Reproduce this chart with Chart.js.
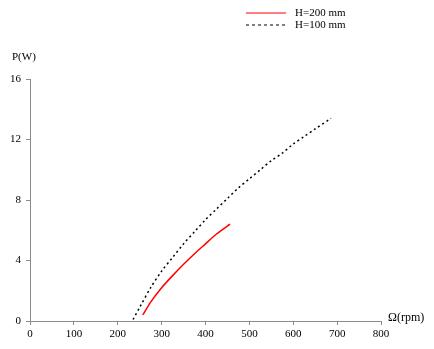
<!DOCTYPE html>
<html>
<head>
<meta charset="utf-8">
<script src="https://cdn.jsdelivr.net/npm/chart.js@4"></script>
<style>
  body { margin: 0; background: #fff; }
  #wrap { width: 434px; height: 349px; }
</style>
</head>
<body>
<div id="wrap"><canvas id="myChart"></canvas></div>
<script>
// speed values (rpm) and power (W)
var speed200 = [257, 275, 300, 325, 350, 375, 400, 425, 456];
var power200 = [0.4, 1.25, 2.2, 3.0, 3.75, 4.45, 5.1, 5.75, 6.4];

var speed100 = [235, 250, 275, 300, 325, 350, 375, 400, 425, 450, 475, 500, 525, 550, 575, 600, 625, 650, 686];
var power100 = [0.1, 0.9, 2.2, 3.3, 4.2, 5.1, 5.9, 6.7, 7.4, 8.1, 8.8, 9.4, 10.0, 10.6, 11.1, 11.7, 12.2, 12.7, 13.4];

var seriesNames = ['H=200 mm', 'H=100 mm'];
var xTicks = [0, 100, 200, 300, 400, 500, 600, 700, 800];
var yTicks = [0, 4, 8, 12, 16];

function toPoints(xs, ys) {
  return xs.map(function (x, i) { return { x: x, y: ys[i] }; });
}

var serif = '"Liberation Serif", "Times New Roman", serif';
var axisGray = '#8c8c8c';

//draws axis titles and the small legend in the top right
var extras = {
  id: 'extras',
  afterDraw: function (chart) {
    var c = chart.ctx;
    var area = chart.chartArea;
    c.save();
    c.fillStyle = '#000';
    c.textBaseline = 'middle';
    c.textAlign = 'left';
    c.font = '11px ' + serif;
    c.fillText('P(W)', 12, 57);
    c.font = '12px ' + serif;
    c.fillText('\u03A9(rpm)', area.right + 7, area.bottom - 3);

    c.font = '11px ' + serif;
    chart.data.datasets.forEach(function (ds, i) {
      var y = 13 + i * 12;
      c.strokeStyle = ds.borderColor;
      c.lineWidth = 1;
      c.setLineDash(ds.borderDash && ds.borderDash.length ? [3, 3] : []);
      c.beginPath();
      c.moveTo(246, y);
      c.lineTo(286, y);
      c.stroke();
      c.setLineDash([]);
      c.fillText(ds.label, 295, y);
    });
    c.restore();
  }
};

var myCanvas = document.getElementById('myChart').getContext('2d');

var myChart = new Chart(myCanvas, {
  type: 'scatter',
  data: {
    datasets: [
      {
        label: seriesNames[0],
        data: toPoints(speed200, power200),
        showLine: true,
        borderColor: 'rgb(255, 0, 0)',
        borderWidth: 1.5,
        pointRadius: 0,
        tension: 0.2,
        fill: false
      },
      {
        label: seriesNames[1],
        data: toPoints(speed100, power100),
        showLine: true,
        borderColor: '#000',
        borderWidth: 1.5,
        borderDash: [2, 3],
        pointRadius: 0,
        tension: 0.3,
        fill: false
      }
    ]
  },
  options: {
    responsive: true,
    maintainAspectRatio: false,
    animation: false,
    layout: { padding: { top: 79, right: 53, left: 0, bottom: 0 } },
    plugins: {
      legend: { display: false },
      tooltip: { enabled: false }
    },
    scales: {
      x: {
        type: 'linear',
        min: 0,
        max: 800,
        afterBuildTicks: function (s) { s.ticks = xTicks.map(function (v) { return { value: v }; }); },
        afterFit: function (s) { s.height = 28; },
        grid: { drawOnChartArea: false, drawTicks: true, tickLength: 4, color: axisGray },
        border: { color: axisGray, width: 1 },
        ticks: { color: '#000', font: { family: serif, size: 11 }, padding: 3, maxRotation: 0 }
      },
      y: {
        min: 0,
        max: 16,
        afterBuildTicks: function (s) { s.ticks = yTicks.map(function (v) { return { value: v }; }); },
        afterFit: function (s) { s.width = 30; },
        grid: { drawOnChartArea: false, drawTicks: true, tickLength: 4, color: axisGray },
        border: { color: axisGray, width: 1 },
        ticks: { color: '#000', font: { family: serif, size: 11 }, padding: 5 }
      }
    }
  },
  plugins: [extras]
});
</script>
</body>
</html>
